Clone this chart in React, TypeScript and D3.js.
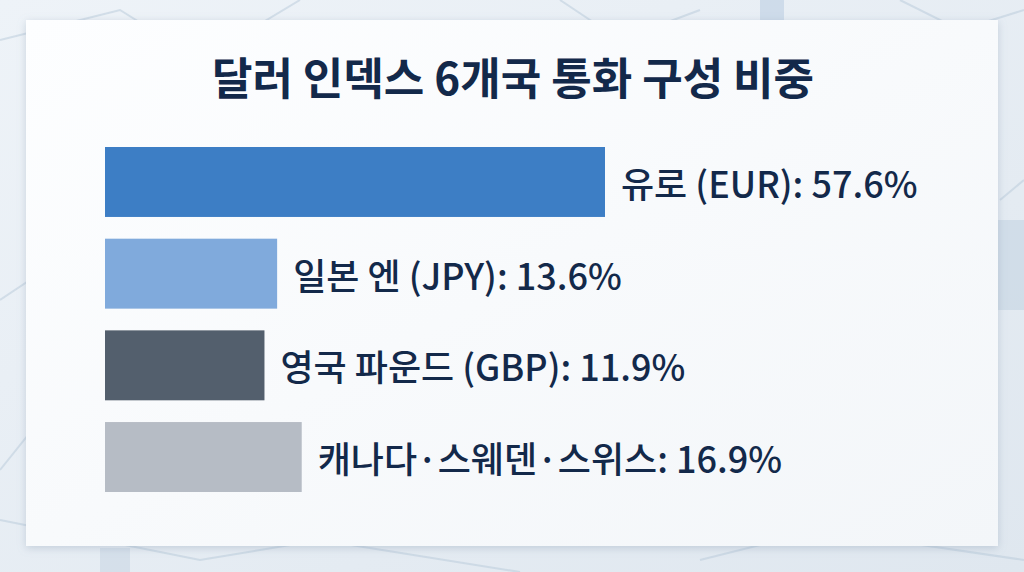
import React from 'react'
import * as d3 from 'd3'

const width = 1024
const height = 572

const title = '달러 인덱스 6개국 통화 구성 비중'
const currencies = ['유로 (EUR)', '일본 엔 (JPY)', '영국 파운드 (GBP)', '캐나다·스웨덴·스위스']
const shares = [57.6, 13.6, 11.9, 16.9]
const barColors = ['#3d7ec5', '#80aadc', '#535f6d', '#b6bcc5']

const fontFamily = '"Noto Sans CJK KR", "Noto Sans", sans-serif'
const textColor = '#13294a'

const data = currencies.map((name, i) => ({ name, value: shares[i], color: barColors[i] }))

// bars in the picture do not start at zero, so the domain starts a bit below it
const x = d3.scaleLinear().domain([-9.5, 57.6]).range([105, 605])

const y = d3
  .scaleBand()
  .domain(currencies)
  .range([147, 492])
  .paddingInner(0.237)
  .paddingOuter(0)

// faint background decoration (finance-style sketches)
const deco = [
  'M0,40 L120,10 L200,60 L300,0',
  'M560,0 L620,40 L700,10',
  'M0,300 L60,260 L40,420 L0,470',
  'M1000,200 L1024,180',
  'M0,520 L200,560 L320,540 L520,572',
  'M700,560 L820,530 L1024,560',
  'M900,0 L960,30 L1024,10',
]

const App = () => {
  return (
    <div style={{ position: 'fixed', left: 0, top: 0, width, height, overflow: 'hidden' }}>
      <svg width={width} height={height} viewBox={`0 0 ${width} ${height}`}>
        <defs>
          <linearGradient id="bg" x1="0" y1="0" x2="1" y2="1">
            <stop offset="0%" stopColor="#eef3f8" />
            <stop offset="100%" stopColor="#dfe7ef" />
          </linearGradient>
          <linearGradient id="card" x1="0" y1="0" x2="1" y2="1">
            <stop offset="0%" stopColor="#fdfeff" />
            <stop offset="100%" stopColor="#f3f6f9" />
          </linearGradient>
          <filter id="shadow" x="-5%" y="-5%" width="110%" height="110%">
            <feDropShadow dx="0" dy="2" stdDeviation="4" floodColor="#7f93aa" floodOpacity="0.35" />
          </filter>
        </defs>

        <rect width={width} height={height} fill="url(#bg)" />
        {deco.map((d, i) => (
          <path key={i} d={d} fill="none" stroke="#b8c9da" strokeWidth={2} opacity={0.5} />
        ))}
        <rect x={996} y={220} width={28} height={90} fill="#c5d4e3" opacity={0.6} />
        <rect x={760} y={0} width={24} height={20} fill="#bccfe2" opacity={0.6} />
        <rect x={100} y={548} width={30} height={24} fill="#c9d7e5" opacity={0.6} />

        <rect x={26} y={20} width={972} height={526} fill="url(#card)" filter="url(#shadow)" />

        <text
          x={513}
          y={95}
          textAnchor="middle"
          fontFamily={fontFamily}
          fontWeight={700}
          fontSize={44}
          fill={textColor}
        >
          {title}
        </text>

        {data.map((d) => (
          <g key={d.name}>
            <rect
              x={x.range()[0]}
              y={y(d.name)}
              width={x(d.value) - x.range()[0]}
              height={y.bandwidth()}
              fill={d.color}
            />
            <text
              x={x(d.value) + 16}
              y={(y(d.name) as number) + y.bandwidth() / 2}
              dominantBaseline="central"
              fontFamily={fontFamily}
              fontWeight={500}
              fontSize={36}
              fill={textColor}
            >
              {`${d.name}: ${d.value.toFixed(1)}%`}
            </text>
          </g>
        ))}
      </svg>
    </div>
  )
}

export default App
